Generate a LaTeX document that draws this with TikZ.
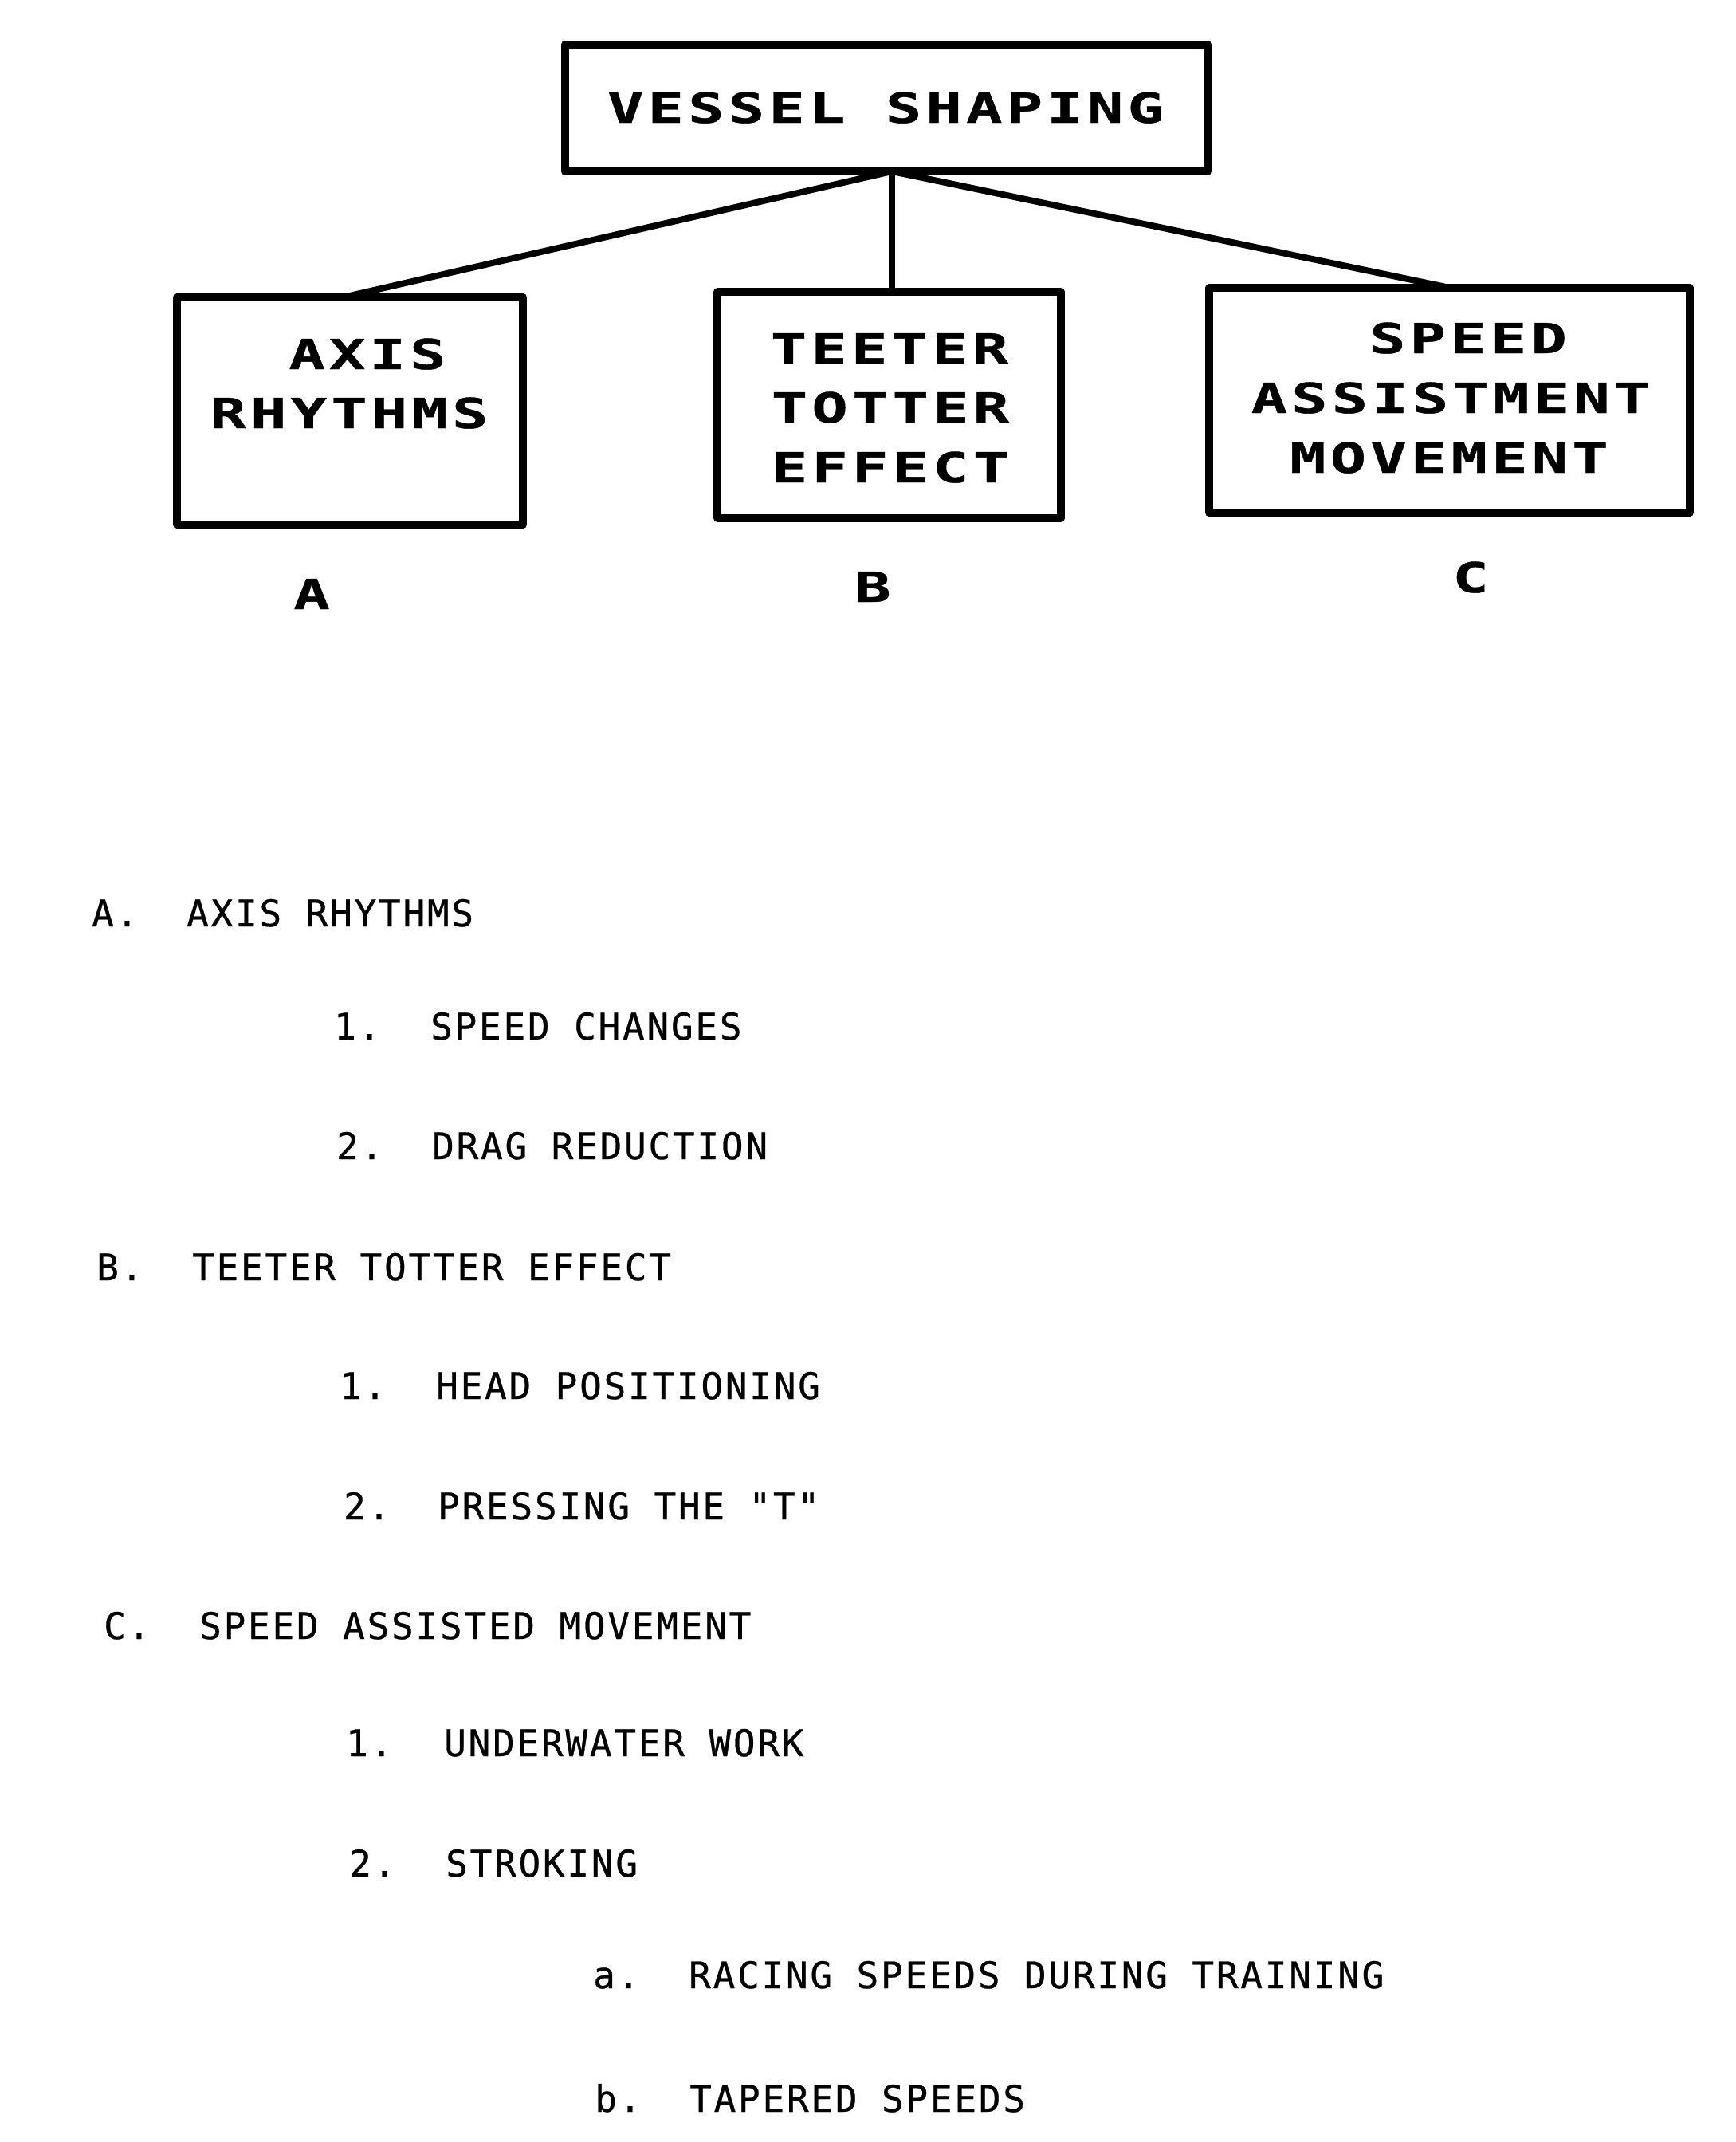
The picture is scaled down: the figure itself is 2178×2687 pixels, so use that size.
\documentclass[tikz,border=0pt]{standalone}
\usepackage{fontspec}
\newfontfamily\boxfont[FakeStretch=1.45,LetterSpace=10,FakeBold=0.8]{DejaVu Sans Mono}
\newfontfamily\listfont[LetterSpace=6,FakeBold=0.6]{DejaVu Sans Mono}
\begin{document}
\begin{tikzpicture}[x=1pt,y=-1pt,
  boxshape/.style={draw=black,line width=10pt,line join=round},
  link/.style={draw=black,line width=8pt,line cap=round},
  boxtext/.style={font=\boxfont\bfseries\fontsize{52}{60}\selectfont,anchor=base,inner sep=0pt},
  listtext/.style={font=\listfont\fontsize{46}{54}\selectfont,anchor=base west,inner sep=0pt}]
\fill[white] (0,0) rectangle (2178,2687);
\useasboundingbox (0,0) rectangle (2178,2687);
% boxes
\draw[boxshape] (709,56) rectangle (1515,215);
\draw[boxshape] (222,373) rectangle (656,658);
\draw[boxshape] (900,366) rectangle (1331,650);
\draw[boxshape] (1517,361) rectangle (2120,643);
% anchor coordinates for connectors
\coordinate (topb) at (1119,215);
\coordinate (atop) at (430,373);
\coordinate (btop) at (1119,366);
\coordinate (ctop) at (1819,361);
\draw[link] (topb) -- (atop);
\draw[link] (topb) -- (btop);
\draw[link] (topb) -- (ctop);
% box texts
\node[boxtext] (tv) at (1111,154) {VESSEL SHAPING};
\node[boxtext] (ta1) at (461,463) {AXIS};
\node[boxtext] (ta2) at (438,537) {RHYTHMS};
\node[boxtext] (tb1) at (1116,456) {TEETER};
\node[boxtext] (tb2) at (1117,530) {TOTTER};
\node[boxtext] (tb3) at (1117,605) {EFFECT};
\node[boxtext] (tc1) at (1842,443) {SPEED};
\node[boxtext] (tc2) at (1820,518) {ASSISTMENT};
\node[boxtext] (tc3) at (1818,593) {MOVEMENT};
\node[boxtext] (la) at (391,764) {A};
\node[boxtext] (lb) at (1095,755) {B};
\node[boxtext] (lc) at (1845,743) {C};
% list
\node[listtext] (l1a) at (115,1162) {A.};
\node[listtext] (l1b) at (234,1162) {AXIS RHYTHMS};
\node[listtext] (l2a) at (419,1304) {1.};
\node[listtext] (l2b) at (540,1304) {SPEED CHANGES};
\node[listtext] (l3a) at (422,1454) {2.};
\node[listtext] (l3b) at (542,1454) {DRAG REDUCTION};
\node[listtext] (l4a) at (121,1606) {B.};
\node[listtext] (l4b) at (241,1606) {TEETER TOTTER EFFECT};
\node[listtext] (l5a) at (426,1755) {1.};
\node[listtext] (l5b) at (547,1755) {HEAD POSITIONING};
\node[listtext] (l6a) at (431,1906) {2.};
\node[listtext] (l6b) at (549,1906) {PRESSING THE "T"};
\node[listtext] (l7a) at (130,2056) {C.};
\node[listtext] (l7b) at (250,2056) {SPEED ASSISTED MOVEMENT};
\node[listtext] (l8a) at (434,2203) {1.};
\node[listtext] (l8b) at (557,2203) {UNDERWATER WORK};
\node[listtext] (l9a) at (438,2354) {2.};
\node[listtext] (l9b) at (559,2354) {STROKING};
\node[listtext] (l10a) at (744,2494) {a.};
\node[listtext] (l10b) at (864,2494) {RACING SPEEDS DURING TRAINING};
\node[listtext] (l11a) at (746,2649) {b.};
\node[listtext] (l11b) at (865,2649) {TAPERED SPEEDS};
\end{tikzpicture}
\end{document}
